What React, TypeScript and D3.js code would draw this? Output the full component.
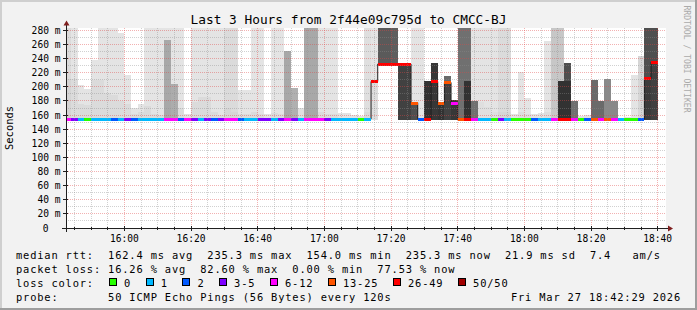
import React from "react";
import * as d3 from "d3";

// ---------- data ----------
const title = "Last 3 Hours from 2f44e09c795d to CMCC-BJ";
const yAxisTitle = "Seconds";
const watermark = "RRDTOOL / TOBI OETIKER";
const graphStart = "2026-03-27T15:42:29";
const graphEnd = "2026-03-27T18:42:29";
const firstStep = "2026-03-27T15:42:00";
const stepSeconds = 120;
const yMaxShown = 283.4;
const yTickValues = [0, 20, 40, 60, 80, 100, 120, 140, 160, 180, 200, 220, 240, 260, 280];

// median rtt per 2-minute step (ms)
const median = [
  154.8, 154.6, 154.5, 154.4, 154.5, 154.6, 154.4, 154.5, 154.7, 154.5,
  154.4, 154.5, 154.6, 154.5, 154.4, 154.8, 154.9, 154.6, 154.4, 154.5,
  154.6, 154.5, 154.4, 154.6, 154.8, 154.7, 154.5, 154.4, 154.5, 154.6,
  154.4, 154.5, 154.6, 154.8, 154.5, 154.4, 154.9, 154.8, 154.7, 154.5,
  154.4, 154.5, 154.4, 154.3, 154.3, 154.5, 207.6, 232.4, 232.2, 232.3,
  232.1, 232.2, 177.5, 154.7, 154.9, 207.6, 177.4, 206.2, 177.4, 154.9,
  154.9, 154.9, 154.6, 154.5, 154.4, 154.6, 154.5, 154.4, 154.5, 154.4,
  154.5, 154.6, 154.5, 154.8, 154.9, 154.9, 154.9, 154.4, 154.5, 154.9,
  154.8, 154.9, 154.9, 154.5, 154.4, 154.4, 154.6, 212.0, 235.3,
];

// lost pings out of 50 per step
const lostPings = [
  7, 4, 1, 0, 1, 1, 1, 2, 1, 3,
  2, 1, 1, 1, 1, 10, 9, 2, 6, 4,
  1, 3, 2, 4, 8, 7, 2, 1, 1, 3,
  5, 1, 3, 9, 4, 1, 11, 10, 7, 3,
  1, 1, 1, 1, 0, 1, 29, 41, 40, 38,
  36, 35, 19, 2, 27, 31, 21, 17, 8, 23,
  30, 9, 1, 1, 0, 4, 1, 0, 0, 0,
  2, 1, 1, 7, 27, 30, 8, 0, 2, 20,
  9, 17, 8, 1, 0, 0, 2, 33, 39,
];

// smoke: lowest ping, highest ping, and the darker core band top
const smokeLow = [
  153, 153, 153, 153, 153, 153, 153, 153, 153, 153,
  153, 153, 153, 153, 153, 153, 153, 153, 153, 153,
  153, 153, 153, 153, 153, 153, 153, 153, 153, 153,
  153, 153, 153, 153, 153, 153, 153, 153, 153, 153,
  153, 153, 153, 153, 153, 153, 153, 229, 229, 229,
  153, 153, 153, 153, 153, 153, 153, 153, 153, 153,
  153, 153, 153, 153, 153, 153, 153, 153, 153, 153,
  153, 153, 153, 153, 153, 153, 153, 153, 153, 153,
  153, 153, 153, 153, 153, 153, 153, 153, 153,
];
const smokeHigh = [
  290, 290, 203, 197, 238, 290, 290, 290, 276, 217,
  170, 176, 290, 290, 290, 290, 290, 290, 161, 290,
  290, 290, 290, 290, 290, 290, 196, 196, 290, 290,
  161, 290, 290, 251, 199, 170, 290, 290, 290, 290,
  290, 163, 163, 160, 158, 290, 290, 290, 290, 290,
  233.6, 233.6, 290, 290, 209, 233.6, 178, 216, 181, 290,
  290, 290, 290, 290, 290, 290, 290, 161, 221, 184.5,
  161, 163, 265.6, 290, 290, 233.6, 180, 158, 160, 210.4,
  179.4, 211.4, 179.4, 156, 157, 217.5, 244.4, 290, 290,
];
const smokeHighDensity = [
  0.07, 0.02, 0.02, 0.02, 0.02, 0.02, 0.02, 0.02, 0.02, 0.02,
  0.02, 0.02, 0.02, 0.02, 0.02, 0.02, 0.02, 0.02, 0.04, 0.02,
  0.02, 0.02, 0.02, 0.02, 0.07, 0.07, 0.02, 0.02, 0.02, 0.02,
  0.03, 0.02, 0.02, 0.35, 0.31, 0.05, 0.35, 0.35, 0.02, 0.02,
  0.02, 0.03, 0.03, 0.03, 0.03, 0.05, 0.02, 0.78, 0.78, 0.76,
  0.92, 0.92, 0.02, 0.02, 1.0, 0.97, 1.0, 0.69, 0.97, 0.66,
  0.66, 0.02, 0.02, 0.02, 0.02, 0.07, 0.07, 0.03, 0.02, 0.02,
  0.03, 0.03, 0.02, 0.18, 0.18, 0.84, 0.66, 0.03, 0.03, 0.69,
  0.69, 0.52, 0.52, 0.03, 0.03, 0.02, 0.1, 0.84, 0.84,
];
const smokeCore = [
  211, 211, 175, 174, 210, 210, 191, 188, 180, 175,
  162, 165, 173, 162, 160, 266, 204, 170, null, 179,
  185, 186, 165, 160, 170, 165, 162, 162, 165, 162,
  null, 163, 162, null, null, null, null, null, 165, 162,
  162, null, null, null, null, 165, 205, null, null, null,
  null, null, 178, null, null, null, null, 206, null, null,
  209, 180, 179, 172, 165, 165, 165, null, 165, 162,
  null, null, 165, null, 209, 209, null, null, null, null,
  null, null, null, null, null, null, null, 212, 236,
];
const smokeCoreDensity = [
  0.11, 0.07, 0.07, 0.07, 0.07, 0.07, 0.07, 0.07, 0.07, 0.07,
  0.07, 0.07, 0.07, 0.07, 0.07, 0.35, 0.33, 0.07, 0, 0.07,
  0.07, 0.07, 0.07, 0.07, 0.1, 0.1, 0.07, 0.07, 0.07, 0.07,
  0, 0.07, 0.07, 0, 0, 0, 0, 0, 0.07, 0.07,
  0.07, 0, 0, 0, 0, 0.08, 0.06, 0, 0, 0,
  0, 0, 0.84, 0, 0, 0, 0, 0.92, 0, 0,
  1.0, 0.66, 0.05, 0.05, 0.05, 0.1, 0.1, 0, 0.06, 0.06,
  0, 0, 0.06, 0, 1.0, 1.0, 0, 0, 0, 0,
  0, 0, 0, 0, 0, 0, 0, 0.95, 0.92,
];

const lossBucketLabels = ["0", "1", "2", "3-5", "6-12", "13-25", "26-49", "50/50"];
const lossBucketMax = [0, 1, 2, 5, 12, 25, 49, 50];

const rttStats = ["162.4 ms avg", "235.3 ms max", "154.0 ms min", "235.3 ms now", "21.9 ms sd", "7.4   am/s"];
const lossStats = ["16.26 % avg", "82.60 % max", "0.00 % min", "77.53 % now"];
const probeText = "50 ICMP Echo Pings (56 Bytes) every 120s";
const stampText = "Fri Mar 27 18:42:29 2026";

// ---------- styles ----------
const lossColors = ["#26ff00", "#00b8ff", "#0059ff", "#7e00ff", "#ff00ff", "#ff5500", "#ff0000", "#a10000"];
const MONO = "'DejaVu Sans Mono', monospace";

export default function App() {
  const L = 66, R = 666, T = 28, B = 228;
  const x = d3.scaleTime().domain([new Date(graphStart), new Date(graphEnd)]).range([L, R]);
  const y = d3.scaleLinear().domain([0, yMaxShown]).range([B, T]);
  const grayScale = d3.scaleLinear().domain([0, 1]).range([232, 50]);
  const shade = (d: number) => {
    const g = Math.round(grayScale(d));
    return `rgb(${g},${g},${g})`;
  };
  const bucketOf = (lost: number) => lossBucketMax.findIndex((m) => lost <= m);

  const t0 = new Date(firstStep).getTime();
  const cols = median.map((m, i) => {
    const a = new Date(t0 + i * stepSeconds * 1000);
    const b = new Date(t0 + (i + 1) * stepSeconds * 1000);
    return { x0: Math.max(L, x(a)), x1: x(b), m, i };
  });

  const stepLine = d3
    .line<[number, number]>()
    .x((d) => d[0])
    .y((d) => d[1])
    .curve(d3.curveStepAfter);
  const linePts: [number, number][] = cols.map((c) => [c.x0, y(c.m)] as [number, number]);
  linePts.push([cols[cols.length - 1].x1, y(cols[cols.length - 1].m)]);

  const start = new Date(graphStart);
  const end = new Date(graphEnd);
  const minorX = d3.timeMinute.every(5)!.range(start, end).filter((t) => t.getMinutes() % 20 !== 0);
  const majorX = d3.timeMinute.every(20)!.range(start, end);
  const minorY = d3.range(10, yMaxShown, 10).filter((v) => v % 20 !== 0);
  const majorY = yTickValues.filter((v) => v > 0);
  const px = (v: number) => Math.floor(v) + 0.5;
  const fmt = d3.timeFormat("%H:%M");

  const legendFont = { fontFamily: MONO, fontSize: 10.4, letterSpacing: 0.83 } as any;
  const charW = 7.09;
  const line1 = "median rtt:  " + rttStats.join("  ");
  const line2 = "packet loss: " + lossStats.join("  ");
  const line4 = "probe:       " + probeText;

  let sx = 109;
  const swatches = lossBucketLabels.map((lab, i) => {
    const pos = sx;
    sx += 36.7 + (lab.length - 1) * charW;
    return { lab, pos, color: lossColors[i] };
  });

  return (
    <svg
      width={697}
      height={310}
      style={{ position: "fixed", left: 0, top: 0, display: "block" }}
      xmlns="http://www.w3.org/2000/svg"
    >
      <defs>
        <clipPath id="plotclip">
          <rect x={L} y={T} width={R - L} height={B - T} />
        </clipPath>
      </defs>
      <rect x={0} y={0} width={697} height={310} fill="#f2f2f2" />
      <rect x={0} y={0} width={697} height={2} fill="#cfcfcf" />
      <rect x={0} y={0} width={2} height={310} fill="#cfcfcf" />
      <rect x={0} y={308} width={697} height={2} fill="#9e9e9e" />
      <rect x={695} y={0} width={2} height={310} fill="#9e9e9e" />
      <rect x={L} y={T} width={R - L} height={B - T} fill="#ffffff" />

      <g clipPath="url(#plotclip)" shapeRendering="crispEdges">
        {cols.map((c) => (
          <rect
            key={"so" + c.i}
            x={c.x0}
            width={c.x1 - c.x0}
            y={y(smokeHigh[c.i])}
            height={y(smokeLow[c.i]) - y(smokeHigh[c.i])}
            fill={shade(smokeHighDensity[c.i])}
          />
        ))}
        {cols.map((c) =>
          smokeCore[c.i] == null ? null : (
            <rect
              key={"sc" + c.i}
              x={c.x0}
              width={c.x1 - c.x0}
              y={y(smokeCore[c.i] as number)}
              height={y(smokeLow[c.i]) - y(smokeCore[c.i] as number)}
              fill={shade(smokeCoreDensity[c.i])}
            />
          )
        )}
      </g>
      <g clipPath="url(#plotclip)">
        <path d={stepLine(linePts) || ""} fill="none" stroke="#202020" strokeWidth={1} />
        <g shapeRendering="crispEdges">
          {cols.map((c) => (
            <rect
              key={"m" + c.i}
              x={c.x0}
              width={c.x1 - c.x0}
              y={Math.round(y(c.m) - 1)}
              height={3}
              fill={lossColors[bucketOf(lostPings[c.i])]}
            />
          ))}
        </g>
      </g>

      <g shapeRendering="crispEdges" strokeDasharray="1 1" strokeWidth={1}>
        {minorX.map((t, i) => (
          <line key={"mx" + i} x1={px(x(t))} x2={px(x(t))} y1={T} y2={B} stroke="rgba(140,140,140,0.4)" />
        ))}
        {minorY.map((v, i) => (
          <line key={"my" + i} x1={L} x2={R} y1={px(y(v))} y2={px(y(v))} stroke="rgba(140,140,140,0.4)" />
        ))}
        {majorX.map((t, i) => (
          <line key={"Mx" + i} x1={px(x(t))} x2={px(x(t))} y1={T} y2={B} stroke="rgba(225,70,70,0.42)" />
        ))}
        {majorY.map((v, i) => (
          <line key={"My" + i} x1={L} x2={R} y1={px(y(v))} y2={px(y(v))} stroke="rgba(225,70,70,0.42)" />
        ))}
      </g>

      <g shapeRendering="crispEdges" stroke="#1f1f1f">
        <line x1={62} x2={669} y1={B + 0.5} y2={B + 0.5} />
        <line x1={L + 0.5} x2={L + 0.5} y1={B + 4} y2={24} />
        {majorX.map((t, i) => (
          <line key={"tx" + i} x1={px(x(t))} x2={px(x(t))} y1={B - 2} y2={B + 3} />
        ))}
        {minorX.map((t, i) => (
          <line key={"tmx" + i} x1={px(x(t))} x2={px(x(t))} y1={B - 1} y2={B + 2} />
        ))}
        {majorY.map((v, i) => (
          <line key={"ty" + i} x1={L - 3} x2={L + 2} y1={px(y(v))} y2={px(y(v))} />
        ))}
      </g>
      <path d={`M${L - 2.5},25.5 L${L + 3.5},25.5 L${L + 0.5},20.5 Z`} fill="#7f1f1f" />
      <path d={`M668,${B - 2.5} L668,${B + 3.5} L673,${B + 0.5} Z`} fill="#7f1f1f" />

      <g fontFamily={MONO} fontSize={9.6} fill="#000">
        {yTickValues.map((v) => (
          <text key={"yl" + v} x={v === 0 ? 48.5 : 60.5} y={y(v) + 3.5} textAnchor="end">
            {v === 0 ? "0" : `${v} m`}
          </text>
        ))}
        {majorX.map((t, i) => (
          <text key={"xl" + i} x={x(t)} y={242} textAnchor="middle">
            {fmt(t)}
          </text>
        ))}
      </g>

      <text x={348.5} y={23.5} textAnchor="middle" fontFamily={MONO} fontSize={12.8} fill="#000">
        {title}
      </text>
      <text
        transform="translate(13.3,128) rotate(-90)"
        textAnchor="middle"
        fontFamily={MONO}
        fontSize={10.4}
        fill="#000"
      >
        {yAxisTitle}
      </text>
      <text
        transform="translate(683.5,59) rotate(90)"
        textAnchor="middle"
        fontFamily={MONO}
        fontSize={8.1}
        fill="#aaaaaa"
      >
        {watermark}
      </text>

      <g {...legendFont} fill="#000" style={{ whiteSpace: "pre" }}>
        <text x={16} y={258.5} xmlSpace="preserve">{line1}</text>
        <text x={16} y={272.5} xmlSpace="preserve">{line2}</text>
        <text x={16} y={286.5}>loss color:</text>
        {swatches.map((s) => (
          <g key={"sw" + s.lab}>
            <rect x={s.pos + 0.5} y={278.5} width={7} height={7} fill={s.color} stroke="#000" strokeWidth={1} shapeRendering="crispEdges" />
            <text x={s.pos + 15} y={286.5}>{s.lab}</text>
          </g>
        ))}
        <text x={16} y={300.5} xmlSpace="preserve">{line4}</text>
        <text x={681} y={300.5} textAnchor="end">{stampText}</text>
      </g>
    </svg>
  );
}
